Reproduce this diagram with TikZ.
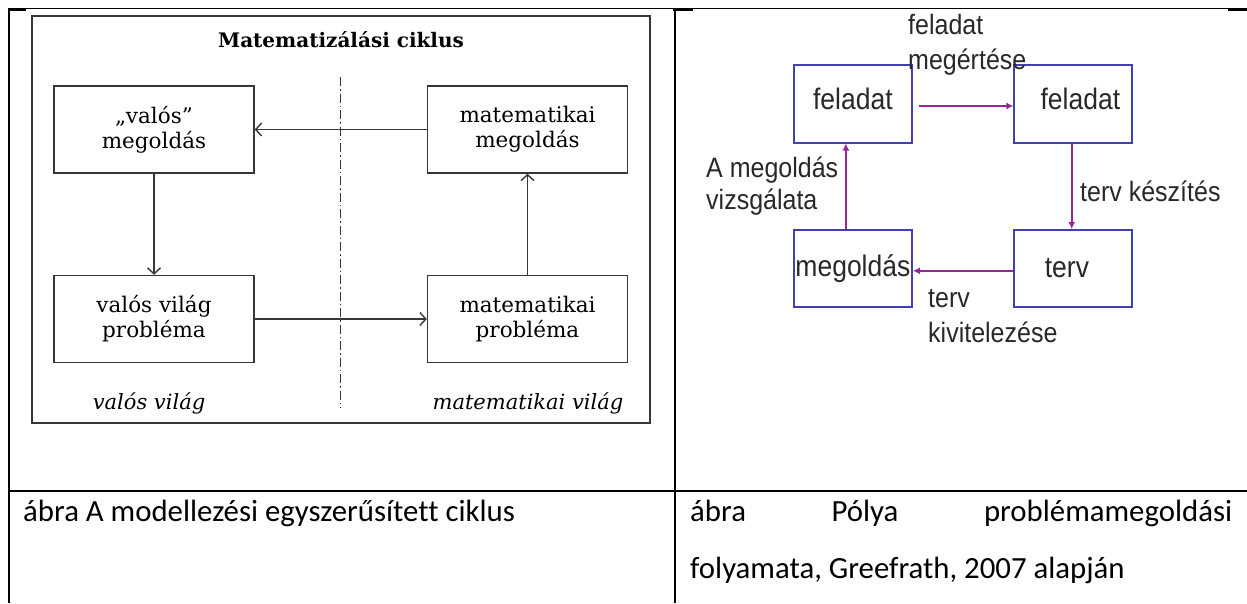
\documentclass[tikz,border=0pt]{standalone}
\usepackage{fontspec}
\setmainfont{DejaVu Serif}
\newfontfamily\arialfont{Liberation Sans}
\newfontfamily\calibrifont[Ligatures=NoCommon]{Carlito}
\usetikzlibrary{positioning}
\usetikzlibrary{arrows.meta}

\definecolor{framegray}{RGB}{55,55,55}
\definecolor{boxblue}{RGB}{64,64,176}
\definecolor{arrowpurple}{RGB}{150,40,150}
\definecolor{labelgray}{RGB}{40,40,40}

\newcommand{\tallt}[1]{\scalebox{1}[1.12]{#1}}

\tikzset{
	every node/.style = {inner sep=0pt},
	cycbox/.style = {draw=framegray, line width=1.4pt, minimum width=200pt, minimum height=87pt, align=center, font=\fontsize{21.5}{25}\selectfont},
	cycarrow/.style = {draw=framegray, line width=1.4pt, -{Straight Barb[length=6pt,width=13pt]}},
	polyabox/.style = {draw=boxblue, line width=2pt, minimum width=118pt, minimum height=78pt, text=labelgray, font=\arialfont\fontsize{26.5}{32}\selectfont},
	polyaarrow/.style = {draw=arrowpurple, line width=1.8pt, -{Latex[length=7pt,width=7pt]}},
	polyalabel/.style = {anchor=west, align=left, text=labelgray, font=\arialfont\fontsize{25}{32}\selectfont},
	captiontext/.style = {anchor=base west, font=\calibrifont\fontsize{30.8}{36}\selectfont},
	tableline/.style = {line width=2pt, black}
}

\begin{document}
\begin{tikzpicture}[x=1pt, y=-1pt]
	\useasboundingbox (0,0) rectangle (1247,603);
	% table
	\draw[line width=1.6pt] (9,8.5) -- (1247,8.5);
	\foreach \a/\b in {9/26, 673/693, 1228/1247}
		\draw[line width=2.4pt] (\a,9.5) -- (\b,9.5);
	\draw[tableline] (9.3,8) -- (9.3,603);
	\draw[tableline] (675,8) -- (675,603);
	\draw[tableline] (9,491) -- (1247,491);

	% matematizalasi ciklus
	\draw[framegray, line width=1.2pt] (32,16) rectangle (650,423);
	\node[font=\bfseries\fontsize{20}{23}\selectfont] (title) at (341,40) {Matematizálási ciklus};
	\coordinate (divtop) at (340,77);
	\coordinate (divbot) at (340,408);
	\draw[framegray, line width=1pt, dash pattern=on 9pt off 3pt on 1.5pt off 3pt] (divtop) -- (divbot);

	\node[cycbox] (valmeg) at (154,129.5) {„valós”\\megoldás};
	\node[cycbox] (valprob) at (154,319) {valós világ\\probléma};
	\node[cycbox] (matmeg) at (527.5,129.5) {matematikai\\megoldás};
	\node[cycbox] (matprob) at (527.5,319) {matematikai\\probléma};

	\draw[cycarrow] (matmeg) -- (valmeg);
	\draw[cycarrow] (valmeg) -- (valprob);
	\draw[cycarrow] (valprob) -- (matprob);
	\draw[cycarrow] (matprob) -- (matmeg);

	\node[font=\itshape\fontsize{21}{24}\selectfont] (valvil) at (149,403) {valós világ};
	\node[font=\itshape\fontsize{21}{24}\selectfont] (matvil) at (528,403) {matematikai világ};

	% polya
	\node[polyabox, text depth=10pt] (fel1) at (852.9,103.5) {\tallt{feladat}};
	\node[polyabox, text depth=10pt] (fel2) at (1073.4,103.5) {\hspace*{14pt}\tallt{feladat}};
	\node[polyabox, minimum height=76.5pt] (megold) at (852.9,268.3) {\tallt{megoldás}};
	\node[polyabox, minimum height=76.5pt] (terv) at (1073.4,268.3) {\tallt{terv}\hspace*{13pt}};

	\draw[polyaarrow, shorten <=6pt] ([yshift=-2.5pt]fel1.east) -- ([yshift=-2.5pt]fel2.west);
	\draw[polyaarrow] ([xshift=-1.7pt]fel2.south) -- ([xshift=-1.7pt]terv.north);
	\draw[polyaarrow] ([yshift=-2.5pt]terv.west) -- ([yshift=-2.5pt]megold.east);
	\draw[polyaarrow] ([xshift=-7pt]megold.north) -- ([xshift=-7pt]fel1.south);

	\node[polyalabel] (megert) at (908,45) {\tallt{feladat}\\[3pt]\tallt{megértése}};
	\node[polyalabel] (keszit) at (1080,191.7) {\tallt{terv készítés}};
	\node[polyalabel] (kivit) at (928,316) {\tallt{terv}\\[3pt]\tallt{kivitelezése}};
	\node[polyalabel] (vizsg) at (706,186) {\tallt{A megoldás}\\\tallt{vizsgálata}};

	% captions
	\node[captiontext] (capl) at (23,521.7) {ábra A modellezési egyszerűsített ciklus};
	\node[captiontext] (capr1) at (690,521.7) {\hbox to 542pt{ábra\hfill Pólya\hfill problémamegoldási}};
	\node[captiontext] (capr2) at (690,578.3) {folyamata, Greefrath, 2007 alapján};
\end{tikzpicture}
\end{document}
